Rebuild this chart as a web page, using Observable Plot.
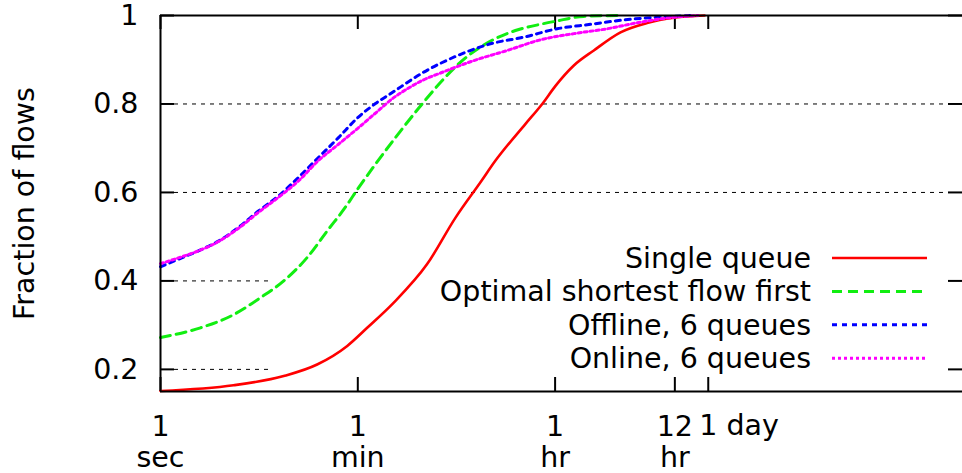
<!DOCTYPE html>
<html><head><meta charset="utf-8">
<script src="https://cdn.jsdelivr.net/npm/d3@7"></script>
<script src="https://cdn.jsdelivr.net/npm/@observablehq/plot@0.6"></script>
<style>
body{margin:0;background:#fff;}
#chart{position:relative;width:962px;height:473px;overflow:hidden;}
</style>
</head><body><div id="chart"></div>
<script>
// ---- data (x: seconds, y: fraction of flows) ----
const seriesNames = ["Single queue", "Optimal shortest flow first", "Offline, 6 queues", "Online, 6 queues"];

const singleT = [1, 4.55, 12.9, 25.8, 48.2, 72.9, 126.6, 253, 456, 765, 1045, 1949, 2754, 3631, 5309, 8040, 13990, 24300, 42300, 80000];
const singleV = [0.151, 0.164, 0.185, 0.211, 0.253, 0.294, 0.351, 0.438, 0.543, 0.623, 0.672, 0.755, 0.8, 0.841, 0.887, 0.921, 0.962, 0.983, 0.995, 1.0];

const optimalT = [1, 2.29, 4.58, 7.96, 12.9, 21, 31.8, 46.2, 60, 86.6, 131, 228, 346, 524, 909, 1582, 2754, 3631, 6490, 13000];
const optimalV = [0.272, 0.294, 0.324, 0.362, 0.4, 0.453, 0.513, 0.566, 0.608, 0.664, 0.724, 0.8, 0.853, 0.898, 0.94, 0.966, 0.981, 0.987, 0.998, 1.0];

const offlineT = [1, 1.45, 2.2, 3.33, 5.05, 7.64, 11.57, 17.5, 26.5, 40.2, 59.3, 86.6, 118, 236, 472, 942, 1880, 3760, 7500, 14960, 29940, 60000];
const offlineV = [0.432, 0.449, 0.468, 0.49, 0.521, 0.558, 0.592, 0.634, 0.679, 0.724, 0.768, 0.801, 0.823, 0.872, 0.909, 0.936, 0.951, 0.97, 0.98, 0.99, 0.996, 1.0];

const onlineT = [1, 1.45, 2.2, 3.33, 5.05, 7.64, 11.57, 17.5, 26.5, 40.2, 60, 83.6, 131, 167, 228, 334, 666, 1333, 2660, 5310, 10600, 21200, 42300, 70000];
const onlineV = [0.439, 0.452, 0.468, 0.489, 0.519, 0.555, 0.589, 0.626, 0.672, 0.709, 0.745, 0.776, 0.817, 0.834, 0.853, 0.87, 0.898, 0.921, 0.945, 0.959, 0.97, 0.985, 0.996, 1.0];

// ticks
const xTickVals = [1, 60, 3600, 43200, 86400];
const xTickLabels = ["1\nsec", "1\nmin", "1\nhr", "12\nhr", "1 day"];
const yTickVals = [0.2, 0.4, 0.6, 0.8, 1];
const yTickLabels = ["0.2", "0.4", "0.6", "0.8", "1"];
const gridFull = [0.6, 0.8];
const gridShort = [0.2, 0.4];
const xDomain = [1, 1.69e7];
const yDomain = [0.15, 1];

// ---- styles ----
const styles = [
  {stroke: "#ff0000", strokeWidth: 2.6, dash: null},
  {stroke: "#11ee11", strokeWidth: 3, dash: "10,6"},
  {stroke: "#0000ff", strokeWidth: 3, dash: "5,5"},
  {stroke: "#ff00ff", strokeWidth: 3, dash: "3,3"}
];
const seriesData = [
  d3.zip(singleT, singleV),
  d3.zip(optimalT, optimalV),
  d3.zip(offlineT, offlineV),
  d3.zip(onlineT, onlineV)
];

const W = 962, H = 473, mL = 160, mR = 0, mT = 15, mB = 82;
const fw = W - mL - mR, fh = H - mT - mB, tickLen = 14;
const FONT = "DejaVu Sans", FS = 28.5;

const xLab = xTickVals.map((t, i) => ({t, label: xTickLabels[i]}));
const centered = xLab.filter(d => !d.label.includes("day"));
const dayLab = xLab.filter(d => d.label.includes("day"));

const lineMarks = seriesData.map((data, i) => Plot.line(data, {
  x: d => d[0], y: d => d[1],
  stroke: styles[i].stroke, strokeWidth: styles[i].strokeWidth,
  strokeDasharray: styles[i].dash, curve: "monotone-x"
}));

const chart = Plot.plot({
  width: W, height: H,
  marginLeft: mL, marginRight: mR, marginTop: mT, marginBottom: mB,
  style: {fontFamily: FONT, fontSize: FS + "px", background: "#fff", color: "#000"},
  x: {type: "log", domain: xDomain, axis: null},
  y: {domain: yDomain, axis: null},
  marks: [
    // grid
    Plot.ruleY(gridFull, {stroke: "#000", strokeWidth: 1, strokeDasharray: "4,5", insetLeft: tickLen, insetRight: tickLen}),
    Plot.ruleY(gridShort, {stroke: "#000", strokeWidth: 1, strokeDasharray: "4,5", insetLeft: tickLen, insetRight: 693}),
    // ticks
    Plot.ruleX(xTickVals, {stroke: "#000", strokeWidth: 2, insetTop: fh - tickLen}),
    Plot.ruleX(xTickVals, {stroke: "#000", strokeWidth: 2, insetBottom: fh - tickLen}),
    Plot.ruleY(yTickVals, {stroke: "#000", strokeWidth: 2, insetRight: fw - tickLen}),
    Plot.ruleY(yTickVals, {stroke: "#000", strokeWidth: 2, insetLeft: fw - tickLen}),
    // curves
    ...lineMarks,
    // border (left, top, bottom)
    Plot.ruleY(yDomain, {stroke: "#000", strokeWidth: 2}),
    Plot.ruleX([xDomain[0]], {stroke: "#000", strokeWidth: 2}),
    // y axis labels
    Plot.axisY(yTickVals, {tickSize: 0, tickPadding: 22, tickFormat: d => yTickLabels[yTickVals.indexOf(d)], fontSize: FS}),
    // x labels
    Plot.text(centered, {x: "t", text: "label", frameAnchor: "bottom", dy: 23, lineAnchor: "top", lineHeight: 1.08, fontSize: FS, fill: "#000"}),
    Plot.text(dayLab, {x: "t", text: "label", frameAnchor: "bottom", dy: 23, dx: -9, textAnchor: "start", lineAnchor: "top", fontSize: FS, fill: "#000"}),
    // y title
    Plot.text(["Fraction of flows"], {frameAnchor: "left", rotate: -90, dx: -136, textAnchor: "middle", lineAnchor: "middle", fontSize: FS, fill: "#000"})
  ]
});

// legend (key) inside plot
const svg = d3.select(chart);
const key = svg.append("g").attr("font-family", FONT).attr("font-size", FS);
const keyTextX = 811, keyLineX1 = 832, keyLineX2 = 927, keyY0 = 258, keyDY = 33.4;
seriesNames.forEach((name, i) => {
  const y = keyY0 + i * keyDY;
  key.append("text").attr("x", keyTextX).attr("y", y + 10).attr("text-anchor", "end").attr("fill", "#000").text(name);
  key.append("line").attr("x1", keyLineX1).attr("x2", keyLineX2).attr("y1", y).attr("y2", y)
    .attr("stroke", styles[i].stroke).attr("stroke-width", styles[i].strokeWidth)
    .attr("stroke-dasharray", styles[i].dash);
});

document.getElementById("chart").appendChild(chart);
</script>
</body></html>
